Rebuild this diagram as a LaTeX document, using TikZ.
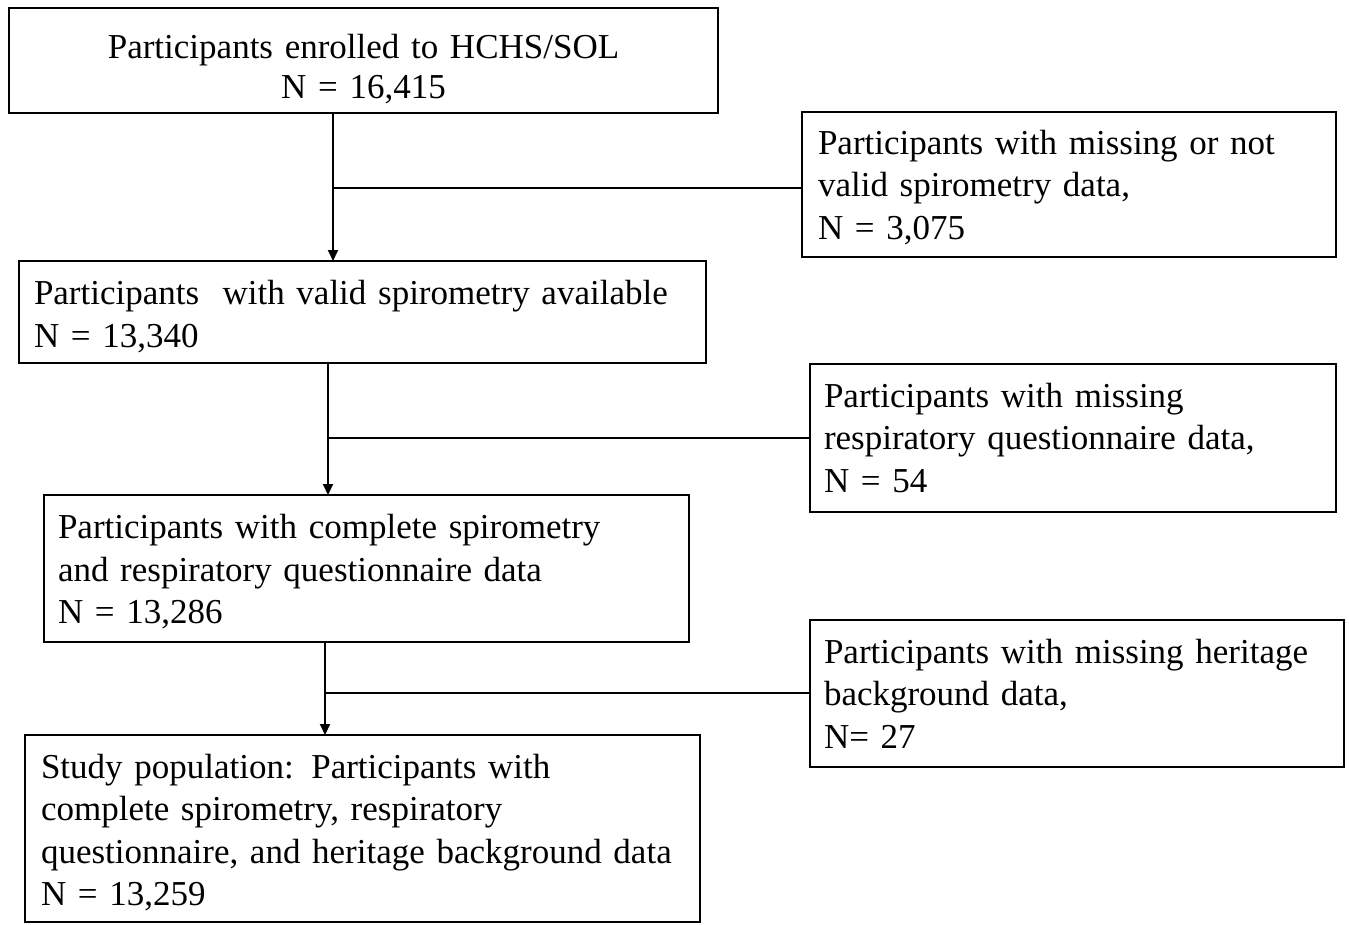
\documentclass[tikz,border=0pt]{standalone}
\usepackage{fontspec}
\setmainfont{Liberation Serif}
\usetikzlibrary{arrows.meta}
\tikzset{
  box/.style={draw, line width=2.5pt, rectangle, anchor=north west, outer sep=0pt,
    inner ysep=0pt, align=left, font=\fontsize{35pt}{42.5pt}\selectfont},
  conn/.style={line width=2pt},
  arr/.style={line width=2pt, -{Triangle[length=11pt,width=10pt]}}
}
\begin{document}
\begin{tikzpicture}[x=1pt,y=-1pt]
\useasboundingbox (0,0) rectangle (1349,924);
% main column
\node[box, align=center, font=\fontsize{35pt}{40pt}\selectfont, minimum width=709pt, minimum height=105pt, text width=679pt, inner xsep=15pt] (b1) at (9,8)
  {\rule{0pt}{42pt}Participants enrolled to HCHS/SOL\\N = 16,415};
\node[box, minimum width=687pt, minimum height=102pt, text width=657pt, inner xsep=15pt] (b2) at (19,261)
  {\rule{0pt}{33pt}Participants\ \ with valid spirometry available\\N = 13,340};
\node[box, minimum width=645pt, minimum height=147pt, text width=617pt, inner xsep=14pt] (b3) at (44,495)
  {\rule{0pt}{31pt}Participants with complete spirometry\\and respiratory questionnaire data\\N = 13,286};
\node[box, minimum width=675pt, minimum height=187pt, text width=643pt, inner xsep=16pt] (b4) at (25,735)
  {\rule{0pt}{32pt}Study population: Participants with\\complete spirometry, respiratory\\questionnaire, and heritage background data\\N = 13,259};
% exclusion boxes
\node[box, minimum width=534pt, minimum height=145pt, text width=502pt, inner xsep=16pt] (r1) at (802,112)
  {\rule{0pt}{30pt}Participants with missing or not\\valid spirometry data,\\N = 3,075};
\node[box, minimum width=526pt, minimum height=148pt, text width=498pt, inner xsep=14pt] (r2) at (810,364)
  {Participants with missing\\respiratory questionnaire data,\\N = 54};
\node[box, minimum width=534pt, minimum height=147pt, text width=506pt, inner xsep=14pt] (r3) at (810,620)
  {Participants with missing heritage\\background data,\\N= 27};
% junctions
\coordinate (j1) at (333,188);
\coordinate (j2) at (328,438);
\coordinate (j3) at (325,693);
% connectors
\draw[arr] (j1 |- b1.south) -- (j1 |- b2.north);
\draw[conn] (j1) -- (r1.west |- j1);
\draw[arr] (j2 |- b2.south) -- (j2 |- b3.north);
\draw[conn] (j2) -- (r2.west |- j2);
\draw[arr] (j3 |- b3.south) -- (j3 |- b4.north);
\draw[conn] (j3) -- (r3.west |- j3);
\end{tikzpicture}
\end{document}
